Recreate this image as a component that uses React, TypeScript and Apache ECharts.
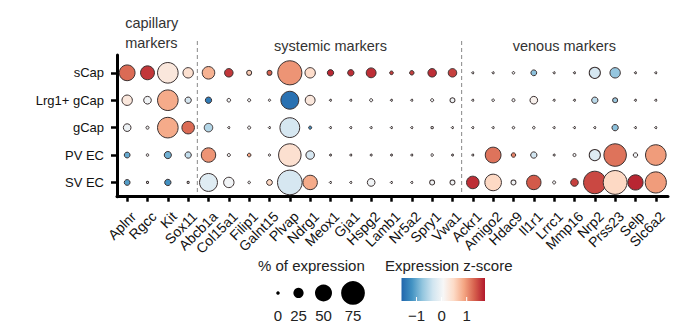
import React, { useEffect, useRef } from "react";
import * as echarts from "echarts";

const genes = ["Aplnr", "Rgcc", "Kit", "Sox11", "Abcb1a", "Col15a1", "Filip1", "Galnt15", "Plvap", "Ndrg1", "Meox1", "Gja1", "Hspg2", "Lamb1", "Nr5a2", "Spry1", "Vwa1", "Ackr1", "Amigo2", "Hdac9", "Il1r1", "Lrrc1", "Mmp16", "Nrp2", "Prss23", "Selp", "Slc6a2"];
const cellTypes = ["sCap", "Lrg1+ gCap", "gCap", "PV EC", "SV EC"];

// % of expression per cell type
const pctSCap = [51, 44, 69, 31, 39, 24, 11, 11, 82, 31, 16, 16, 29, 6, 9, 24, 24, 0, 0, 2, 14, 0, 0, 34, 31, 0, 0];
const pctLrg1 = [31, 21, 69, 16, 16, 6, 4, 1, 59, 29, 0, 0, 4, 0, 0, 4, 11, 0, 2, 4, 21, 0, 0, 16, 11, 0, 0];
const pctGCap = [21, 4, 69, 39, 24, 0, 4, 0, 66, 4, 0, 0, 0, 0, 0, 1.5, 0, 0, 0, 2, 2, 0, 0, 0, 16, 0, 0];
const pctPV = [14, 2, 19, 16, 46, 4, 6, 1, 76, 24, 0, 0, 0, 0, 0, 2, 0, 0, 51, 9, 16, 0, 4, 34, 76, 9, 69];
const pctSV = [14, 0.5, 16, 0.5, 59, 31, 2, 14, 84, 46, 0, 0, 21, 0, 0, 11, 11, 39, 54, 11, 46, 4, 21, 76, 81, 49, 71];

// expression z-score per cell type
const zSCap = [1.25, 1.55, 0.3, 0.4, 0.8, 1.55, 0.6, 1.3, 1.0, 0.45, 1.65, 1.6, 1.6, 1.5, 1.5, 1.6, 1.5, 0, 0, 0, -0.8, 0, 0, -0.3, -0.75, 0, 0];
const zLrg1 = [0.3, 0, 0.85, -0.3, -1.4, 0, 0, 0, -1.5, 0.3, 0, 0, 0, 0, 0, 0, 0, 0, 0, 0, 0.15, 0, 0, -0.5, -0.7, 0, 0];
const zGCap = [-0.05, 0, 0.85, 1.25, -0.55, 0, 0, 0, -0.3, -1.2, 0, 0, 0, 0, 0, 0, 0, 0, 0, 0, 0, 0, 0, 0, -0.8, 0, 0];
const zPV = [-1.0, 0, -0.95, -0.45, 1.0, 0, 0.9, 0, 0.4, -0.3, 0, 0, 0, 0, 0, 0, 0, 0, 1.2, 1.1, -0.35, 0, 0, -0.2, 1.2, 0, 0.95];
const zSV = [-1.1, 0, -1.2, 0, -0.2, 0, 0, 0.5, -0.3, 0.85, 0, 0, 0, 0, 0, 0, 0, 1.6, 0.5, 0, 1.35, 0, 1.5, 1.45, 0.5, 1.65, 0.95];

const pctRows = [pctSCap, pctLrg1, pctGCap, pctPV, pctSV];
const zRows = [zSCap, zLrg1, zGCap, zPV, zSV];

const sizeTicks = [0, 25, 50, 75];
const zTicks = [-1, 0, 1];
const zMin = -1.6;
const zMax = 1.73;
const palette = ["#2166ac", "#4393c3", "#92c5de", "#d1e5f0", "#f7f7f7", "#fddbc7", "#f4a582", "#d6604d", "#b2182b"];

const groups = [
  { label: "capillary\nmarkers", from: 0, to: 3 },
  { label: "systemic markers", from: 4, to: 16 },
  { label: "venous markers", from: 17, to: 26 },
];

const FONT = "'Liberation Sans', Arial, Helvetica, sans-serif";
const sizeOf = (p: number) => 2 + 0.27 * p;

export default function App() {
  const ref = useRef<HTMLDivElement>(null);
  useEffect(() => {
    document.body.style.margin = "0";
    const chart = echarts.init(ref.current!, null, { renderer: "svg" });
    const data: number[][] = [];
    pctRows.forEach((row, r) => {
      row.forEach((p, c) => {
        data.push([c, r, p, zRows[r][c]]);
      });
    });
    const idxX = genes.map((_, i) => i);
    const idxY = cellTypes.map((_, i) => i);
    chart.setOption({
      animation: false,
      grid: { left: 117, top: 55, width: 551, height: 141.7, containLabel: false },
      xAxis: {
        type: "value",
        min: -0.5,
        max: 26.6,
        axisLine: { show: true, onZero: false, lineStyle: { color: "#000", width: 3 } },
        axisTick: { show: true, customValues: idxX, length: 5, lineStyle: { color: "#000", width: 2.5 } },
        axisLabel: {
          show: true,
          customValues: idxX,
          formatter: (v: number) => genes[Math.round(v)] ?? "",
          rotate: 45,
          align: "right",
          verticalAlign: "top",
          margin: 11,
          padding: [2, 0, 0, 0],
          fontSize: 14,
          fontFamily: FONT,
          color: "#111",
        },
        splitLine: { show: false },
      },
      yAxis: {
        type: "value",
        inverse: true,
        min: -0.65,
        max: 4.52,
        axisLine: { show: true, onZero: false, lineStyle: { color: "#000", width: 3 } },
        axisTick: { show: true, customValues: idxY, length: 6, lineStyle: { color: "#000", width: 2.5 } },
        axisLabel: {
          show: true,
          customValues: idxY,
          formatter: (v: number) => cellTypes[Math.round(v)] ?? "",
          margin: 13,
          fontSize: 13,
          fontFamily: FONT,
          color: "#111",
        },
        splitLine: { show: false },
      },
      visualMap: {
        show: false,
        type: "continuous",
        dimension: 3,
        min: zMin,
        max: zMax,
        inRange: { color: palette },
      },
      series: [
        {
          type: "scatter",
          data,
          symbol: "circle",
          symbolSize: (v: number[]) => sizeOf(v[2]),
          itemStyle: { borderColor: "#3a3030", borderWidth: 1, opacity: 1 },
          z: 3,
        },
      ],
    });

    const px = (x: number) => chart.convertToPixel({ xAxisIndex: 0 }, x) as number;
    const py = (y: number) => chart.convertToPixel({ yAxisIndex: 0 }, y) as number;
    const bottom = py(4.52);
    const graphics: any[] = [];
    [3.5, 16.5].forEach((x) => {
      graphics.push({
        type: "line",
        shape: { x1: px(x) - 1, y1: 41, x2: px(x) - 1, y2: bottom - 1 },
        style: { stroke: "#888", lineWidth: 1, lineDash: [4, 3] },
        z: 0,
      });
    });
    groups.forEach((g, i) => {
      if (i === 0) {
        graphics.push({
          type: "text",
          x: px(g.from) - 2,
          y: 33,
          style: { text: g.label, fontSize: 14.5, fontFamily: FONT, fill: "#333", align: "left", verticalAlign: "middle", lineHeight: 20 },
        });
      } else {
        graphics.push({
          type: "text",
          x: (px(g.from) + px(g.to)) / 2,
          y: 46,
          style: { text: g.label, fontSize: 14.5, fontFamily: FONT, fill: "#333", align: "center", verticalAlign: "middle" },
        });
      }
    });

    // size legend
    graphics.push({
      type: "text",
      x: 258,
      y: 265,
      style: { text: "% of expression", fontSize: 15, fontFamily: FONT, fill: "#222", align: "left", verticalAlign: "middle" },
    });
    const sizeX = [278, 298.5, 323.5, 353];
    sizeTicks.forEach((p, i) => {
      graphics.push({ type: "circle", shape: { cx: sizeX[i], cy: 293, r: (sizeOf(p) + 1.5) / 2 }, style: { fill: "#000" } });
      graphics.push({
        type: "text",
        x: sizeX[i],
        y: 315,
        style: { text: String(p), fontSize: 15, fontFamily: FONT, fill: "#222", align: "center", verticalAlign: "middle" },
      });
    });

    // colour bar legend
    graphics.push({
      type: "text",
      x: 385,
      y: 265,
      style: { text: "Expression z-score", fontSize: 15, fontFamily: FONT, fill: "#222", align: "left", verticalAlign: "middle" },
    });
    const barL = 401.5;
    const barR = 485;
    const barT = 278;
    const barB = 301;
    const stops = palette.map((c, i) => ({ offset: i / (palette.length - 1), color: c }));
    graphics.push({
      type: "rect",
      shape: { x: barL, y: barT, width: barR - barL, height: barB - barT },
      style: { fill: new echarts.graphic.LinearGradient(0, 0, 1, 0, stops) },
    });
    const zx = (z: number) => barL + ((z - zMin) / (zMax - zMin)) * (barR - barL);
    zTicks.forEach((z) => {
      graphics.push({ type: "line", shape: { x1: zx(z), y1: barB - 4, x2: zx(z), y2: barB }, style: { stroke: "#fff", lineWidth: 1 } });
      graphics.push({
        type: "text",
        x: zx(z),
        y: 315,
        style: { text: z < 0 ? "\u2212" + Math.abs(z) : String(z), fontSize: 15, fontFamily: FONT, fill: "#222", align: "center", verticalAlign: "middle" },
      });
    });

    chart.setOption({ graphic: graphics });
    return () => chart.dispose();
  }, []);
  return <div ref={ref} style={{ width: 680, height: 333 }} />;
}
